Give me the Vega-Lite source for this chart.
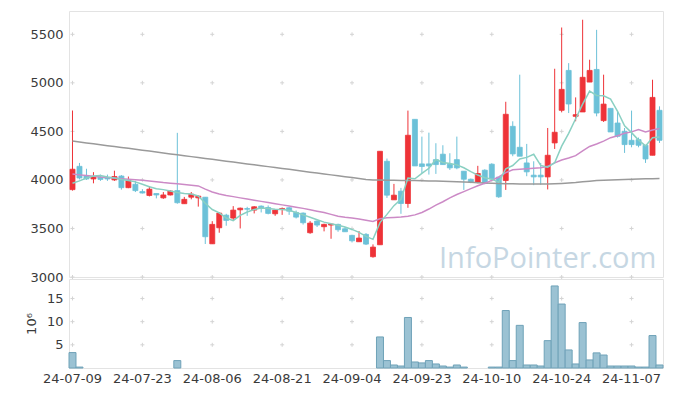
{
  "$schema": "https://vega.github.io/schema/vega-lite/v6.json",
  "background": "white",
  "padding": {"left": 24, "top": 10, "right": 9, "bottom": 5},
  "spacing": 2,
  "bounds": "flush",
  "resolve": {"scale": {"x": "shared"}},
  "config": {
    "view": {"stroke": "#e3e3e3", "strokeWidth": 1},
    "axis": {"domain": false, "ticks": false, "grid": false, "labelFont": "DejaVu Sans", "labelFontSize": 13, "labelColor": "#3a3a3a", "titleFont": "DejaVu Sans", "titleFontSize": 13, "titleFontWeight": "normal", "titleColor": "#3a3a3a"}
  },
  "datasets": {
    "k": [
      {"d":"24-07-09","o":3900,"h":4715,"l":3890,"c":4110,"v":3.33,"m5":3965,"m20":4060,"m120":4400},
      {"d":"24-07-10","o":4140,"h":4175,"l":4005,"c":4020,"v":0.2,"m5":3990,"m20":4052,"m120":4391},
      {"d":"24-07-11","o":4040,"h":4115,"l":4000,"c":4010,"v":null,"m5":4020,"m20":4045,"m120":4381},
      {"d":"24-07-12","o":4010,"h":4080,"l":3965,"c":4030,"v":null,"m5":4040,"m20":4037,"m120":4372},
      {"d":"24-07-15","o":4030,"h":4055,"l":3990,"c":4005,"v":null,"m5":4045,"m20":4030,"m120":4362},
      {"d":"24-07-16","o":4020,"h":4055,"l":3990,"c":4010,"v":null,"m5":4030,"m20":4025,"m120":4353},
      {"d":"24-07-17","o":4000,"h":4095,"l":3990,"c":4035,"v":null,"m5":4020,"m20":4019,"m120":4344},
      {"d":"24-07-18","o":4040,"h":4050,"l":3900,"c":3920,"v":null,"m5":4005,"m20":4013,"m120":4334},
      {"d":"24-07-19","o":3920,"h":4035,"l":3915,"c":3995,"v":null,"m5":3995,"m20":4007,"m120":4325},
      {"d":"24-07-22","o":3955,"h":3990,"l":3875,"c":3890,"v":null,"m5":3980,"m20":4002,"m120":4315},
      {"d":"24-07-23","o":3880,"h":3905,"l":3860,"c":3865,"v":null,"m5":3955,"m20":3997,"m120":4306},
      {"d":"24-07-24","o":3840,"h":3935,"l":3830,"c":3905,"v":null,"m5":3930,"m20":3990,"m120":4297},
      {"d":"24-07-25","o":3860,"h":3860,"l":3810,"c":3845,"v":null,"m5":3910,"m20":3982,"m120":4287},
      {"d":"24-07-26","o":3815,"h":3875,"l":3805,"c":3845,"v":null,"m5":3900,"m20":3973,"m120":4278},
      {"d":"24-07-29","o":3845,"h":3895,"l":3840,"c":3885,"v":null,"m5":3885,"m20":3966,"m120":4268},
      {"d":"24-07-30","o":3890,"h":4485,"l":3755,"c":3765,"v":1.6,"m5":3870,"m20":3960,"m120":4259},
      {"d":"24-07-31","o":3755,"h":3825,"l":3755,"c":3800,"v":null,"m5":3860,"m20":3953,"m120":4250},
      {"d":"24-08-01","o":3822,"h":3875,"l":3800,"c":3853,"v":null,"m5":3855,"m20":3946,"m120":4240},
      {"d":"24-08-02","o":3815,"h":3840,"l":3725,"c":3833,"v":null,"m5":3835,"m20":3938,"m120":4231},
      {"d":"24-08-05","o":3822,"h":3822,"l":3340,"c":3415,"v":null,"m5":3760,"m20":3905,"m120":4221},
      {"d":"24-08-06","o":3342,"h":3575,"l":3340,"c":3542,"v":null,"m5":3695,"m20":3875,"m120":4212},
      {"d":"24-08-07","o":3507,"h":3668,"l":3456,"c":3658,"v":null,"m5":3660,"m20":3855,"m120":4203},
      {"d":"24-08-08","o":3637,"h":3651,"l":3528,"c":3583,"v":null,"m5":3608,"m20":3840,"m120":4193},
      {"d":"24-08-09","o":3607,"h":3730,"l":3583,"c":3689,"v":null,"m5":3580,"m20":3828,"m120":4184},
      {"d":"24-08-12","o":3692,"h":3715,"l":3500,"c":3709,"v":null,"m5":3635,"m20":3815,"m120":4174},
      {"d":"24-08-13","o":3705,"h":3723,"l":3630,"c":3698,"v":null,"m5":3670,"m20":3803,"m120":4165},
      {"d":"24-08-14","o":3689,"h":3730,"l":3655,"c":3723,"v":null,"m5":3695,"m20":3791,"m120":4156},
      {"d":"24-08-16","o":3730,"h":3737,"l":3665,"c":3706,"v":null,"m5":3710,"m20":3779,"m120":4146},
      {"d":"24-08-19","o":3716,"h":3737,"l":3645,"c":3655,"v":null,"m5":3705,"m20":3767,"m120":4137},
      {"d":"24-08-20","o":3651,"h":3696,"l":3630,"c":3689,"v":null,"m5":3698,"m20":3755,"m120":4127},
      {"d":"24-08-21","o":3695,"h":3716,"l":3640,"c":3705,"v":null,"m5":3695,"m20":3743,"m120":4118},
      {"d":"24-08-22","o":3713,"h":3720,"l":3640,"c":3678,"v":null,"m5":3688,"m20":3731,"m120":4109},
      {"d":"24-08-23","o":3665,"h":3685,"l":3603,"c":3617,"v":null,"m5":3665,"m20":3719,"m120":4099},
      {"d":"24-08-26","o":3658,"h":3665,"l":3540,"c":3559,"v":null,"m5":3640,"m20":3707,"m120":4090},
      {"d":"24-08-27","o":3456,"h":3576,"l":3445,"c":3555,"v":null,"m5":3615,"m20":3692,"m120":4080},
      {"d":"24-08-28","o":3576,"h":3583,"l":3515,"c":3535,"v":null,"m5":3590,"m20":3678,"m120":4071},
      {"d":"24-08-29","o":3518,"h":3549,"l":3470,"c":3542,"v":null,"m5":3565,"m20":3665,"m120":4062},
      {"d":"24-08-30","o":3535,"h":3552,"l":3394,"c":3545,"v":null,"m5":3548,"m20":3645,"m120":4052},
      {"d":"24-09-02","o":3542,"h":3549,"l":3466,"c":3487,"v":null,"m5":3533,"m20":3625,"m120":4043},
      {"d":"24-09-03","o":3497,"h":3514,"l":3466,"c":3466,"v":null,"m5":3515,"m20":3615,"m120":4033},
      {"d":"24-09-04","o":3429,"h":3435,"l":3356,"c":3373,"v":null,"m5":3490,"m20":3607,"m120":4024},
      {"d":"24-09-05","o":3363,"h":3473,"l":3363,"c":3401,"v":null,"m5":3460,"m20":3598,"m120":4015},
      {"d":"24-09-06","o":3439,"h":3452,"l":3329,"c":3339,"v":null,"m5":3418,"m20":3585,"m120":4005},
      {"d":"24-09-09","o":3209,"h":3336,"l":3199,"c":3308,"v":null,"m5":3388,"m20":3572,"m120":4000},
      {"d":"24-09-10","o":3332,"h":4295,"l":3332,"c":4295,"v":6.7,"m5":3560,"m20":3600,"m120":3998},
      {"d":"24-09-11","o":4192,"h":4220,"l":3815,"c":3843,"v":1.6,"m5":3645,"m20":3610,"m120":3997},
      {"d":"24-09-12","o":3795,"h":3959,"l":3795,"c":3843,"v":0.65,"m5":3735,"m20":3614,"m120":3996},
      {"d":"24-09-13","o":3884,"h":3918,"l":3651,"c":3757,"v":0.43,"m5":3800,"m20":3618,"m120":3995},
      {"d":"24-09-19","o":3757,"h":4714,"l":3713,"c":4460,"v":10.9,"m5":4020,"m20":3625,"m120":3994},
      {"d":"24-09-20","o":4624,"h":4624,"l":4144,"c":4144,"v":1.3,"m5":4012,"m20":3640,"m120":3993},
      {"d":"24-09-23","o":4165,"h":4446,"l":4069,"c":4138,"v":1.1,"m5":4068,"m20":3665,"m120":3992},
      {"d":"24-09-24","o":4165,"h":4487,"l":4055,"c":4144,"v":1.6,"m5":4120,"m20":3700,"m120":3990},
      {"d":"24-09-25","o":4209,"h":4378,"l":4062,"c":4158,"v":0.87,"m5":4210,"m20":3740,"m120":3988},
      {"d":"24-09-26","o":4265,"h":4357,"l":4158,"c":4158,"v":0.43,"m5":4180,"m20":3775,"m120":3986},
      {"d":"24-09-27","o":4162,"h":4275,"l":4103,"c":4124,"v":0.2,"m5":4170,"m20":3815,"m120":3984},
      {"d":"24-09-30","o":4209,"h":4446,"l":4110,"c":4124,"v":0.65,"m5":4155,"m20":3850,"m120":3981},
      {"d":"24-10-02","o":4090,"h":4090,"l":3897,"c":4007,"v":0.2,"m5":4125,"m20":3880,"m120":3978},
      {"d":"24-10-04","o":4007,"h":4014,"l":3966,"c":3977,"v":null,"m5":4085,"m20":3910,"m120":3975},
      {"d":"24-10-07","o":3977,"h":4145,"l":3966,"c":4066,"v":null,"m5":4050,"m20":3940,"m120":3972},
      {"d":"24-10-08","o":4100,"h":4110,"l":3955,"c":3966,"v":null,"m5":4022,"m20":3965,"m120":3969},
      {"d":"24-10-10","o":4162,"h":4172,"l":4014,"c":4014,"v":0.2,"m5":4008,"m20":3995,"m120":3966},
      {"d":"24-10-11","o":4028,"h":4028,"l":3815,"c":3826,"v":0.2,"m5":3975,"m20":4030,"m120":3963},
      {"d":"24-10-14","o":3994,"h":4805,"l":3897,"c":4676,"v":12.4,"m5":4115,"m20":4075,"m120":3961},
      {"d":"24-10-15","o":4552,"h":4604,"l":4244,"c":4268,"v":1.6,"m5":4148,"m20":4105,"m120":3960},
      {"d":"24-10-16","o":4336,"h":5084,"l":4244,"c":4244,"v":9.2,"m5":4215,"m20":4110,"m120":3959},
      {"d":"24-10-17","o":4175,"h":4371,"l":4038,"c":4083,"v":0.65,"m5":4232,"m20":4115,"m120":3958},
      {"d":"24-10-18","o":4049,"h":4192,"l":3946,"c":4031,"v":0.65,"m5":4264,"m20":4120,"m120":3958},
      {"d":"24-10-21","o":4049,"h":4175,"l":3950,"c":4031,"v":0.43,"m5":4150,"m20":4125,"m120":3958},
      {"d":"24-10-22","o":4031,"h":4535,"l":3902,"c":4254,"v":5.9,"m5":4130,"m20":4140,"m120":3959},
      {"d":"24-10-23","o":4381,"h":5145,"l":4319,"c":4491,"v":17.7,"m5":4177,"m20":4175,"m120":3961},
      {"d":"24-10-24","o":4717,"h":5570,"l":4696,"c":4933,"v":13.8,"m5":4348,"m20":4205,"m120":3964},
      {"d":"24-10-25","o":5128,"h":5203,"l":4689,"c":4782,"v":3.9,"m5":4480,"m20":4225,"m120":3968},
      {"d":"24-10-28","o":4655,"h":4850,"l":4604,"c":4672,"v":0.87,"m5":4630,"m20":4250,"m120":3973},
      {"d":"24-10-29","o":4700,"h":5650,"l":4700,"c":5057,"v":9.8,"m5":4780,"m20":4300,"m120":3980},
      {"d":"24-10-30","o":5008,"h":5238,"l":5008,"c":5128,"v":1.74,"m5":4915,"m20":4345,"m120":3987},
      {"d":"24-10-31","o":5138,"h":5546,"l":4655,"c":4689,"v":3.26,"m5":4870,"m20":4370,"m120":3993},
      {"d":"24-11-01","o":4611,"h":5084,"l":4597,"c":4781,"v":2.8,"m5":4866,"m20":4400,"m120":3997},
      {"d":"24-11-04","o":4737,"h":4737,"l":4494,"c":4494,"v":0.43,"m5":4832,"m20":4435,"m120":4000},
      {"d":"24-11-05","o":4586,"h":4707,"l":4436,"c":4449,"v":0.43,"m5":4707,"m20":4455,"m120":4003},
      {"d":"24-11-06","o":4501,"h":4535,"l":4278,"c":4364,"v":0.43,"m5":4558,"m20":4480,"m120":4005},
      {"d":"24-11-07","o":4408,"h":4714,"l":4336,"c":4364,"v":0.43,"m5":4487,"m20":4495,"m120":4007},
      {"d":"24-11-08","o":4415,"h":4436,"l":4336,"c":4357,"v":0.2,"m5":4410,"m20":4520,"m120":4009},
      {"d":"24-11-11","o":4357,"h":4357,"l":4175,"c":4216,"v":0.2,"m5":4350,"m20":4495,"m120":4011},
      {"d":"24-11-12","o":4254,"h":5032,"l":4254,"c":4850,"v":7.0,"m5":4435,"m20":4515,"m120":4012},
      {"d":"24-11-13","o":4717,"h":4758,"l":4381,"c":4408,"v":0.65,"m5":4442,"m20":4530,"m120":4014}
    ],
    "gp": [
      {"d":"24-07-09","y":3000},{"d":"24-07-09","y":3500},{"d":"24-07-09","y":4000},{"d":"24-07-09","y":4500},{"d":"24-07-09","y":5000},{"d":"24-07-09","y":5500},
      {"d":"24-07-23","y":3000},{"d":"24-07-23","y":3500},{"d":"24-07-23","y":4000},{"d":"24-07-23","y":4500},{"d":"24-07-23","y":5000},{"d":"24-07-23","y":5500},
      {"d":"24-08-06","y":3000},{"d":"24-08-06","y":3500},{"d":"24-08-06","y":4000},{"d":"24-08-06","y":4500},{"d":"24-08-06","y":5000},{"d":"24-08-06","y":5500},
      {"d":"24-08-21","y":3000},{"d":"24-08-21","y":3500},{"d":"24-08-21","y":4000},{"d":"24-08-21","y":4500},{"d":"24-08-21","y":5000},{"d":"24-08-21","y":5500},
      {"d":"24-09-04","y":3000},{"d":"24-09-04","y":3500},{"d":"24-09-04","y":4000},{"d":"24-09-04","y":4500},{"d":"24-09-04","y":5000},{"d":"24-09-04","y":5500},
      {"d":"24-09-23","y":3000},{"d":"24-09-23","y":3500},{"d":"24-09-23","y":4000},{"d":"24-09-23","y":4500},{"d":"24-09-23","y":5000},{"d":"24-09-23","y":5500},
      {"d":"24-10-10","y":3000},{"d":"24-10-10","y":3500},{"d":"24-10-10","y":4000},{"d":"24-10-10","y":4500},{"d":"24-10-10","y":5000},{"d":"24-10-10","y":5500},
      {"d":"24-10-24","y":3000},{"d":"24-10-24","y":3500},{"d":"24-10-24","y":4000},{"d":"24-10-24","y":4500},{"d":"24-10-24","y":5000},{"d":"24-10-24","y":5500},
      {"d":"24-11-07","y":3000},{"d":"24-11-07","y":3500},{"d":"24-11-07","y":4000},{"d":"24-11-07","y":4500},{"d":"24-11-07","y":5000},{"d":"24-11-07","y":5500}
    ],
    "gv": [
      {"d":"24-07-09","y":5},{"d":"24-07-09","y":10},{"d":"24-07-09","y":15},
      {"d":"24-07-23","y":5},{"d":"24-07-23","y":10},{"d":"24-07-23","y":15},
      {"d":"24-08-06","y":5},{"d":"24-08-06","y":10},{"d":"24-08-06","y":15},
      {"d":"24-08-21","y":5},{"d":"24-08-21","y":10},{"d":"24-08-21","y":15},
      {"d":"24-09-04","y":5},{"d":"24-09-04","y":10},{"d":"24-09-04","y":15},
      {"d":"24-09-23","y":5},{"d":"24-09-23","y":10},{"d":"24-09-23","y":15},
      {"d":"24-10-10","y":5},{"d":"24-10-10","y":10},{"d":"24-10-10","y":15},
      {"d":"24-10-24","y":5},{"d":"24-10-24","y":10},{"d":"24-10-24","y":15},
      {"d":"24-11-07","y":5},{"d":"24-11-07","y":10},{"d":"24-11-07","y":15}
    ],
    "wm": [{"d":"24-10-22","y":3095,"t":"InfoPointer.com"}]
  },
  "vconcat": [
    {
      "width": 594,
      "height": 266,
      "encoding": {
        "x": {"field": "d", "type": "ordinal", "scale": {"type": "band", "paddingInner": 0, "paddingOuter": 0}, "axis": null}
      },
      "layer": [
        {
          "data": {"name": "gp"},
          "mark": {"type": "point", "shape": "M-1,0L1,0M0,-1L0,1", "size": 16, "filled": false, "stroke": "#d4d4d4", "strokeWidth": 1, "opacity": 1},
          "encoding": {"y": {"field": "y", "type": "quantitative", "title": null, "scale": {"domain": [3000, 5740], "nice": false, "zero": false}, "axis": {"values": [3000, 3500, 4000, 4500, 5000, 5500], "format": "d", "labelPadding": 6, "title": null}}}
        },
        {
          "data": {"name": "wm"},
          "mark": {"type": "text", "font": "Open Sans", "fontSize": 29, "color": "#c6d7e3", "align": "center", "baseline": "alphabetic"},
          "encoding": {"y": {"field": "y", "type": "quantitative", "title": null}, "text": {"field": "t"}}
        },
        {
          "data": {"name": "k"},
          "mark": {"type": "rule", "strokeWidth": 1},
          "encoding": {
            "y": {"field": "l", "type": "quantitative", "title": null},
            "y2": {"field": "h"},
            "color": {"condition": {"test": "datum.c >= datum.o", "value": "#ee3338"}, "value": "#6cc1d8"}
          }
        },
        {
          "data": {"name": "k"},
          "mark": {"type": "bar", "size": 5, "strokeWidth": 0.8},
          "encoding": {
            "y": {"field": "o", "type": "quantitative", "title": null},
            "y2": {"field": "c"},
            "fill": {"condition": {"test": "datum.c >= datum.o", "value": "#ee3338"}, "value": "#6cc1d8"},
            "stroke": {"condition": {"test": "datum.c >= datum.o", "value": "#ee3338"}, "value": "#6cc1d8"}
          }
        },
        {
          "data": {"name": "k"},
          "mark": {"type": "line", "color": "#9a9a9a", "strokeWidth": 1.5},
          "encoding": {"y": {"field": "m120", "type": "quantitative", "title": null}}
        },
        {
          "data": {"name": "k"},
          "mark": {"type": "line", "color": "#cc8ac6", "strokeWidth": 1.5},
          "encoding": {"y": {"field": "m20", "type": "quantitative", "title": null}}
        },
        {
          "data": {"name": "k"},
          "mark": {"type": "line", "color": "#8ad0c2", "strokeWidth": 1.5},
          "encoding": {"y": {"field": "m5", "type": "quantitative", "title": null}}
        }
      ]
    },
    {
      "width": 594,
      "height": 89,
      "encoding": {
        "x": {"field": "d", "type": "ordinal", "scale": {"type": "band", "paddingInner": 0, "paddingOuter": 0}, "axis": {"values": ["24-07-09","24-07-23","24-08-06","24-08-21","24-09-04","24-09-23","24-10-10","24-10-24","24-11-07"], "labelAngle": 0, "labelPadding": 4, "title": null}}
      },
      "layer": [
        {
          "data": {"name": "gv"},
          "mark": {"type": "point", "shape": "M-1,0L1,0M0,-1L0,1", "size": 16, "filled": false, "stroke": "#d4d4d4", "strokeWidth": 1, "opacity": 1},
          "encoding": {"y": {"field": "y", "type": "quantitative", "title": "10⁶", "scale": {"domain": [0, 19.2], "nice": false}, "axis": {"values": [5, 10, 15], "labelPadding": 6, "titlePadding": 8, "title": "10⁶"}}}
        },
        {
          "data": {"name": "k"},
          "mark": {"type": "bar", "fill": "#9bc2d3", "stroke": "#6fa2b8", "strokeWidth": 1},
          "encoding": {"y": {"field": "v", "type": "quantitative", "title": "10⁶"}}
        }
      ]
    }
  ]
}
